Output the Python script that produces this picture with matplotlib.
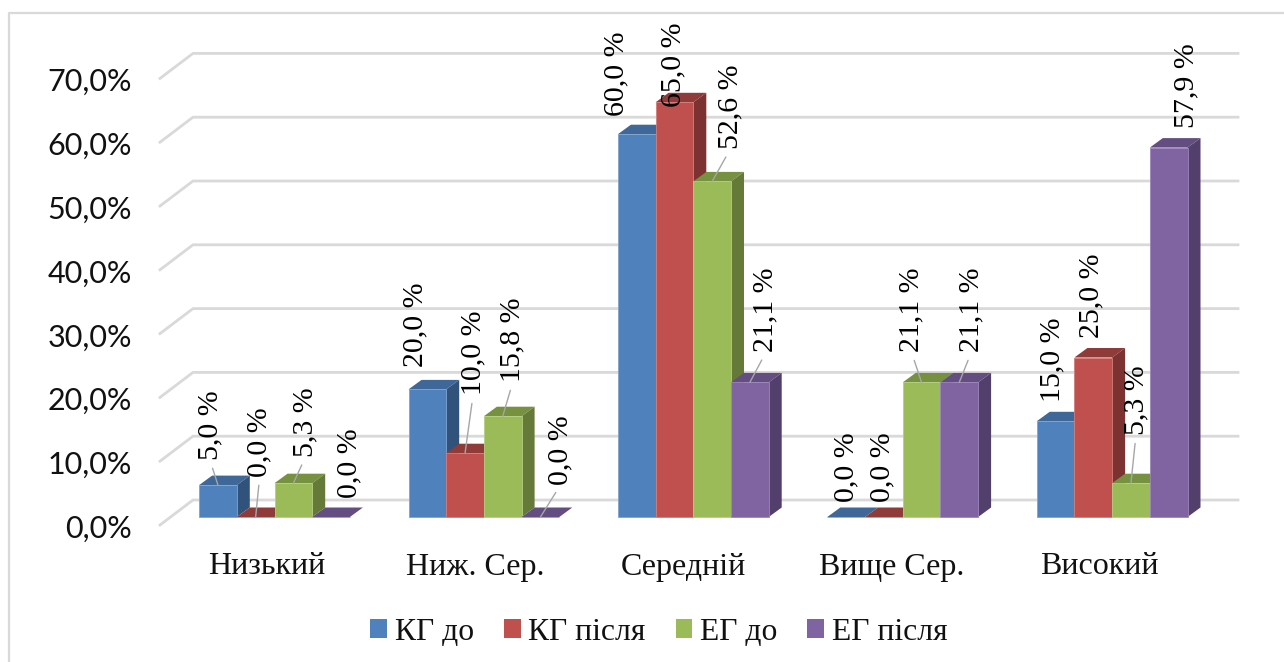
import matplotlib
matplotlib.use('Agg')
from matplotlib import pyplot as plt

categories = ['Низький', 'Ниж. Сер.', 'Середній', 'Вище Сер.', 'Високий']
series_names = ['КГ до', 'КГ після', 'ЕГ до', 'ЕГ після']
kg_before = [5.0, 20.0, 60.0, 0.0, 15.0]
kg_after = [0.0, 10.0, 65.0, 0.0, 25.0]
eg_before = [5.3, 15.8, 52.6, 21.1, 5.3]
eg_after = [0.0, 0.0, 21.1, 21.1, 57.9]
y_ticks = [0, 10, 20, 30, 40, 50, 60, 70]

# label offsets from the bar top in pixels (dx, dy), one row per series
offs_kg_before = [(-8, 25), (-12, 22), (-20, 18), (0, 15), (-3, 19)]
offs_kg_after = [(4, 40), (8, 58), (-1, -5), (-1, 15), (-2, 20)]
offs_eg_before = [(12, 26), (10, 34), (18, 32), (-10, 30), (5, 48)]
offs_eg_after = [(18, 19), (20, 32), (16, 30), (12, 30), (18, 20)]
leader_kg_before = [True, False, False, False, False]
leader_kg_after = [True, True, False, False, False]
leader_eg_before = [True, True, True, True, True]
leader_eg_after = [False, True, True, True, False]

values = [kg_before, kg_after, eg_before, eg_after]
offsets = [offs_kg_before, offs_kg_after, offs_eg_before, offs_eg_after]
leaders = [leader_kg_before, leader_kg_after, leader_eg_before, leader_eg_after]

front = ['#4f81bd', '#c0504d', '#9bbb59', '#8064a2']
top = ['#3f6797', '#8f3b39', '#76913f', '#644d80']
side = ['#31527a', '#7c3230', '#657a39', '#533f6c']
edge = ['#7fa3cf', '#d37d7a', '#b4cf80', '#9d85bb']

W, H = 1284, 662
X0, Y0 = 274.5, 517      # pixel of first group centre / zero line
X_UNIT, Y_UNIT = 209.4, 6.38
BAR = 37.7 / X_UNIT
DX, DY = 13 / X_UNIT, 9.5 / Y_UNIT
FLOOR_X, FLOOR_Y = 33 / X_UNIT, 25 / Y_UNIT
WALL_LEFT = (160 - X0) / X_UNIT
WALL_RIGHT = (1238 - X0) / X_UNIT
BACK = (Y0 - 500) / Y_UNIT
FRONT = (Y0 - 525) / Y_UNIT
LABEL_STEP = 208.25 / X_UNIT   # category labels are spaced a bit tighter than the bars

serif = 'Liberation Serif'

fig = plt.figure(figsize=(W / 100, H / 100), dpi=100)
ax = fig.add_axes([0, 0, 1, 1])
ax.set_xlim(-X0 / X_UNIT, (W - X0) / X_UNIT)
ax.set_ylim((Y0 - H) / Y_UNIT, Y0 / Y_UNIT)
ax.axis('off')

# outer frame, only left and top are visible
fig.add_artist(plt.Line2D([8.5 / W, 8.5 / W, 1], [0, 1 - 12.5 / H, 1 - 12.5 / H],
                          color='#d9d9d9', lw=1.6))

# gridlines on the back wall and floor
for t in y_ticks:
    ax.plot([WALL_LEFT, WALL_LEFT + FLOOR_X, WALL_RIGHT],
            [FRONT + t, BACK + t, BACK + t],
            color='#d9d9d9', lw=2, solid_joinstyle='miter', zorder=1)
    ax.text(WALL_LEFT - 28 / X_UNIT, FRONT + t - 0.6, f'{t},0%', ha='right', va='center',
            family='Lato', fontsize=22, color='#111111')

handles = []
for s, vals in enumerate(values):
    xs = [g + (s - 1.5) * BAR for g in range(len(categories))]
    for x, v in zip(xs, vals):
        l, r = x - BAR / 2, x + BAR / 2
        ax.fill([l, r, r + DX, l + DX], [v, v, v + DY, v + DY],
                color=top[s], lw=0, zorder=2 + s)
        if v > 0:
            ax.fill([r, r + DX, r + DX, r], [0, DY, v + DY, v],
                    color=side[s], lw=0, zorder=2 + s)
    bars = ax.bar(xs, vals, BAR, color=front[s], edgecolor=edge[s], linewidth=0.6,
                  zorder=2 + s, label=series_names[s])
    handles.append(bars)

# data labels go after the bars so they sit on top
for s, vals in enumerate(values):
    for g, v in enumerate(vals):
        x = g + (s - 1.5) * BAR
        dx, dy = offsets[s][g]
        txt = f'{v:.1f} %'.replace('.', ',')
        props = None
        if leaders[s][g]:
            props = dict(arrowstyle='-', color='#a6a6a6', lw=1, relpos=(0.5, 0),
                         shrinkA=4, shrinkB=0)
        ax.annotate(txt, xy=(x, v), xytext=(dx * 0.72, dy * 0.72), textcoords='offset points',
                    rotation=90, ha='center', va='bottom', family=serif, fontsize=21.5,
                    color='black', arrowprops=props, zorder=10, annotation_clip=False)

for g, name in enumerate(categories):
    ax.text(g * LABEL_STEP - 8 / X_UNIT, (Y0 - 567) / Y_UNIT, name, ha='center', va='center',
            family=serif, fontsize=23, color='#111111')

leg = fig.legend(handles=handles, labels=series_names, ncol=4, frameon=False,
                 loc='center', bbox_to_anchor=(659 / W, 1 - 632 / H),
                 prop={'family': serif, 'size': 22.8},
                 handlelength=0.53, handleheight=0.55, handletextpad=0.25, columnspacing=0.94)
for t in leg.get_texts():
    t.set_color('#111111')
for h in leg.legend_handles:
    h.set_edgecolor('none')

fig.savefig('out.png', dpi=100)
